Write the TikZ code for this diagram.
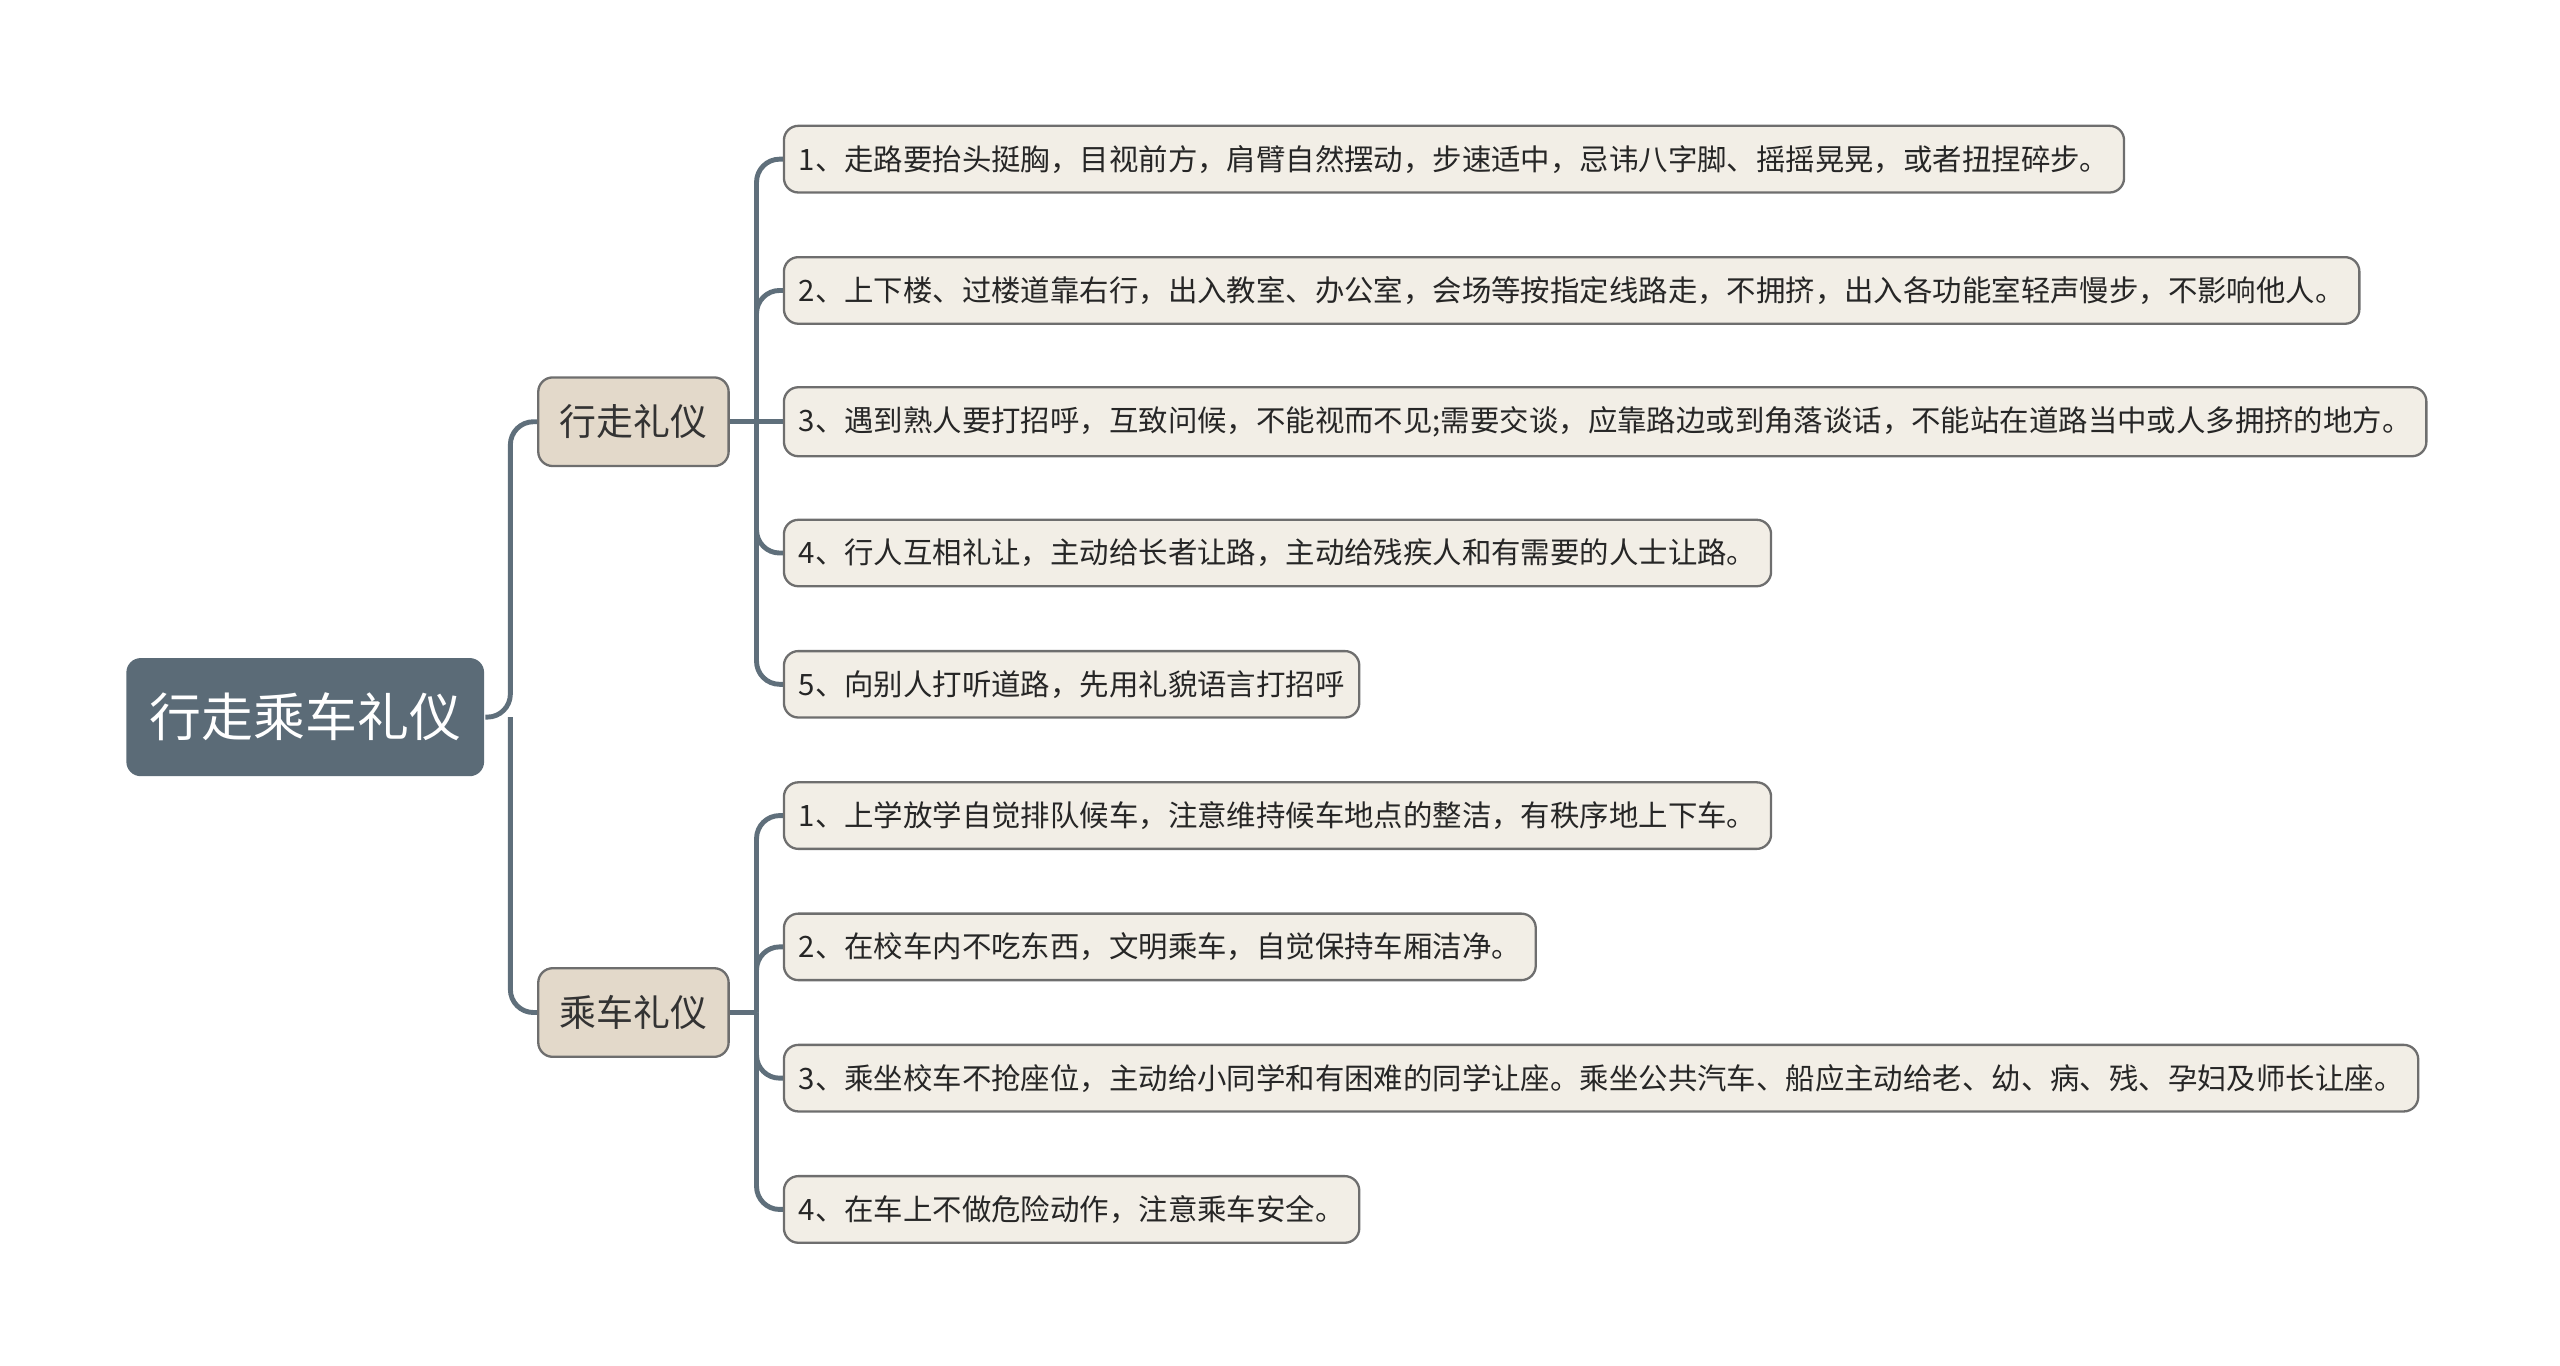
\documentclass[tikz,border=0pt]{standalone}
\usepackage{fontspec}
\setmainfont{Noto Sans CJK SC}
\usetikzlibrary{positioning}
\definecolor{rootc}{HTML}{5B6B77}
\definecolor{linec}{HTML}{5F6F7B}
\definecolor{midc}{HTML}{E3D9CA}
\definecolor{leafc}{HTML}{F2EEE6}
\definecolor{edgec}{HTML}{6E6E6E}
\begin{document}
\begin{tikzpicture}
[
x=1cm, y=1cm,
node-r/.style={rectangle,rounded corners=2.5pt,fill=rootc,text=white,font=\fontsize{9pt}{10pt}\selectfont,minimum width=2.18cm,minimum height=0.72cm},
node-m/.style={rectangle,rounded corners=2.5pt,draw=edgec,line width=0.4pt,fill=midc,text=black!80,font=\fontsize{6.4pt}{7pt}\selectfont,minimum width=1.16cm,minimum height=0.54cm},
node-l/.style={rectangle,rounded corners=2.5pt,draw=edgec,line width=0.4pt,fill=leafc,text=black!85,font=\fontsize{5.1pt}{6pt}\selectfont,minimum height=0.40cm,inner xsep=0.09cm,anchor=west},
conn/.style={draw=linec,line width=0.85pt,rounded corners=4pt},
]
\useasboundingbox (0,-0.01) rectangle (15.6,-8.33);
\node (nr) [node-r] at (1.86,-4.38) {行走乘车礼仪};
\node (nw) [node-m] at (3.86,-2.58) {行走礼仪};
\node (nc) [node-m] at (3.86,-6.18) {乘车礼仪};

\node (w1) [node-l] at (4.77,-0.98) {1、走路要抬头挺胸，目视前方，肩臂自然摆动，步速适中，忌讳八字脚、摇摇晃晃，或者扭捏碎步。};
\node (w2) [node-l] at (4.77,-1.78) {2、上下楼、过楼道靠右行，出入教室、办公室，会场等按指定线路走，不拥挤，出入各功能室轻声慢步，不影响他人。};
\node (w3) [node-l] at (4.77,-2.58) {3、遇到熟人要打招呼，互致问候，不能视而不见;需要交谈，应靠路边或到角落谈话，不能站在道路当中或人多拥挤的地方。};
\node (w4) [node-l] at (4.77,-3.38) {4、行人互相礼让，主动给长者让路，主动给残疾人和有需要的人士让路。};
\node (w5) [node-l] at (4.77,-4.18) {5、向别人打听道路，先用礼貌语言打招呼};

\node (c1) [node-l] at (4.77,-4.98) {1、上学放学自觉排队候车，注意维持候车地点的整洁，有秩序地上下车。};
\node (c2) [node-l] at (4.77,-5.78) {2、在校车内不吃东西，文明乘车，自觉保持车厢洁净。};
\node (c3) [node-l] at (4.77,-6.58) {3、乘坐校车不抢座位，主动给小同学和有困难的同学让座。乘坐公共汽车、船应主动给老、幼、病、残、孕妇及师长让座。};
\node (c4) [node-l] at (4.77,-7.38) {4、在车上不做危险动作，注意乘车安全。};

% root to branches
\coordinate (hr) at (3.11,-4.38);
\draw [conn] (nr.east) -- (hr) |- (nw.west);
\draw [conn] (hr) |- (nc.west);
% walking leaves
\coordinate (hw) at (4.61,-2.58);
\draw [conn] (nw.east) -- (hw);
\draw [conn] (hw) |- (w1.west);
\draw [conn] (hw) |- (w2.west);
\draw [conn] (hw) -- (w3.west);
\draw [conn] (hw) |- (w4.west);
\draw [conn] (hw) |- (w5.west);
% riding leaves
\coordinate (hc) at (4.61,-6.18);
\draw [conn] (nc.east) -- (hc);
\draw [conn] (hc) |- (c1.west);
\draw [conn] (hc) |- (c2.west);
\draw [conn] (hc) |- (c3.west);
\draw [conn] (hc) |- (c4.west);
\end{tikzpicture}
\end{document}
